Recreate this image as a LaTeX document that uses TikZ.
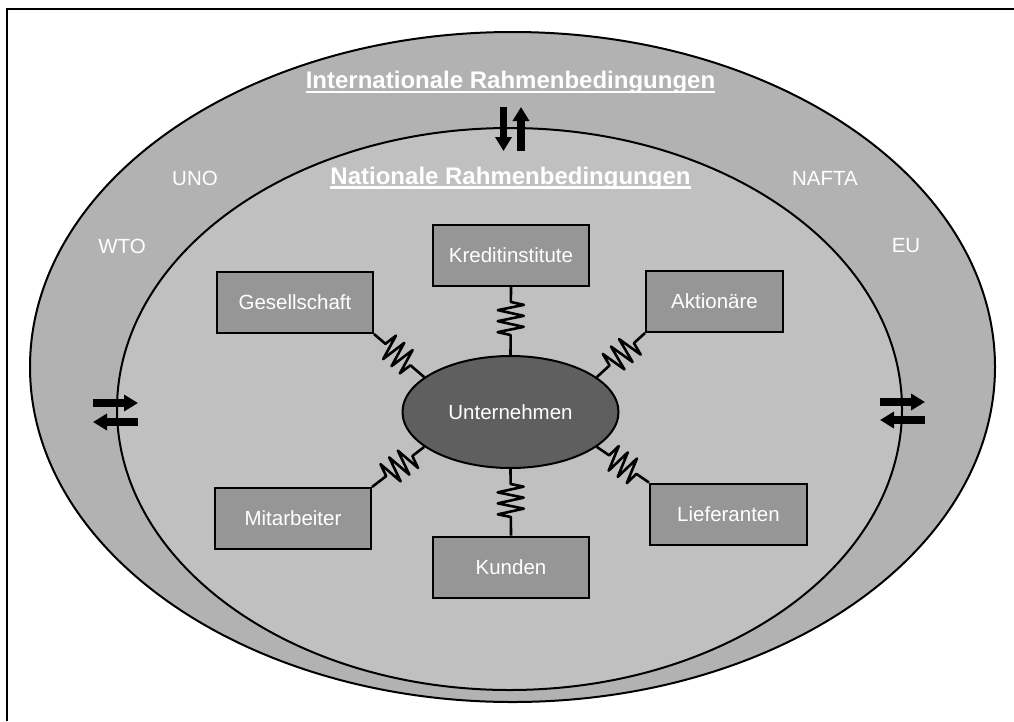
\documentclass[tikz,border=0pt]{standalone}
\usepackage{fontspec}
\setmainfont{Liberation Sans}
\usetikzlibrary{shapes.geometric,decorations.pathmorphing,arrows.meta}
\definecolor{ringgrey}{RGB}{178,178,178}
\definecolor{innergrey}{RGB}{192,192,192}
\definecolor{boxgrey}{RGB}{150,150,150}
\definecolor{coregrey}{RGB}{95,95,95}
\begin{document}
\begin{tikzpicture}[x=1pt,y=-1pt,
  lbl/.style={text=white, font=\fontsize{20.5}{24}\selectfont},
  titlelbl/.style={text=white, font=\bfseries\fontsize{24}{28}\selectfont, anchor=base, inner sep=0pt},
  ulline/.style={white, line width=2.5pt},
  outline/.style={line width=2pt, draw=black},
  boxnode/.style={outline, fill=boxgrey, minimum height=61pt, inner sep=0pt, lbl},
  corenode/.style={outline, ellipse, fill=coregrey, minimum width=216pt, minimum height=112pt, inner sep=0pt, lbl},
  spring/.style={line width=2.6pt, line join=round, decorate,
    decoration={zigzag, amplitude=13pt, segment length=11pt, pre length=15pt, post length=15pt}},
  fatarrow/.style={line width=7.5pt, -{Triangle[length=14pt, width=16pt]}}
]
\useasboundingbox (0,0) rectangle (1014,721);
\fill[white] (0,0) rectangle (1014,721);
% frame (only top and left visible)
\draw[line width=2pt] (6.5,721) -- (6.5,9) -- (1014,9);
% ellipses
\draw[outline, fill=ringgrey] (512.5,367) ellipse [x radius=482.5, y radius=335];
\draw[outline, fill=innergrey] (509.5,409) ellipse [x radius=392.5, y radius=281];
% titles
\node[titlelbl] (intl) at (510.5,88) {Internationale Rahmenbedingungen};
\draw[ulline] ([yshift=-4pt]intl.base west) -- ([yshift=-4pt]intl.base east);
\node[titlelbl] (natl) at (510.5,184) {Nationale Rahmenbedingungen};
\draw[ulline] ([yshift=-3.5pt]natl.base west) -- ([yshift=-3.5pt]natl.base east);
% outer labels
\node[lbl] (uno) at (195,178) {UNO};
\node[lbl] (wto) at (122,246) {WTO};
\node[lbl] (nafta) at (825,178) {NAFTA};
\node[lbl] (eu) at (906,246) {EU};
% exchange arrows
\draw[fatarrow] (503.5,107) -- (503.5,151);
\draw[fatarrow] (521,151) -- (521,107);
\draw[fatarrow] (93,403) -- (138,403);
\draw[fatarrow] (138,422) -- (93,422);
\draw[fatarrow] (880,402) -- (925,402);
\draw[fatarrow] (925,420) -- (880,420);
% nodes
\node[corenode] (u) at (510.5,412) {Unternehmen};
\node[boxnode, minimum width=156pt] (kr) at (511,255.5) {Kreditinstitute};
\node[boxnode, minimum width=156pt] (g) at (295,302.5) {Gesellschaft};
\node[boxnode, minimum width=137pt] (a) at (714.5,301.5) {Aktionäre};
\node[boxnode, minimum width=157pt] (l) at (728.5,514) {Lieferanten};
\node[boxnode, minimum width=156pt] (m) at (293,518.5) {Mitarbeiter};
\node[boxnode, minimum width=156pt] (k) at (511,567) {Kunden};
% springs
\draw[spring] (kr.south) -- (u.north);
\draw[spring] (g.south east) -- (u.158);
\draw[spring] (a.south west) -- (u.22);
\draw[spring] (u.-22) -- (l.north west);
\draw[spring] (u.202) -- (m.north east);
\draw[spring] (u.south) -- (k.north);
\end{tikzpicture}
\end{document}
